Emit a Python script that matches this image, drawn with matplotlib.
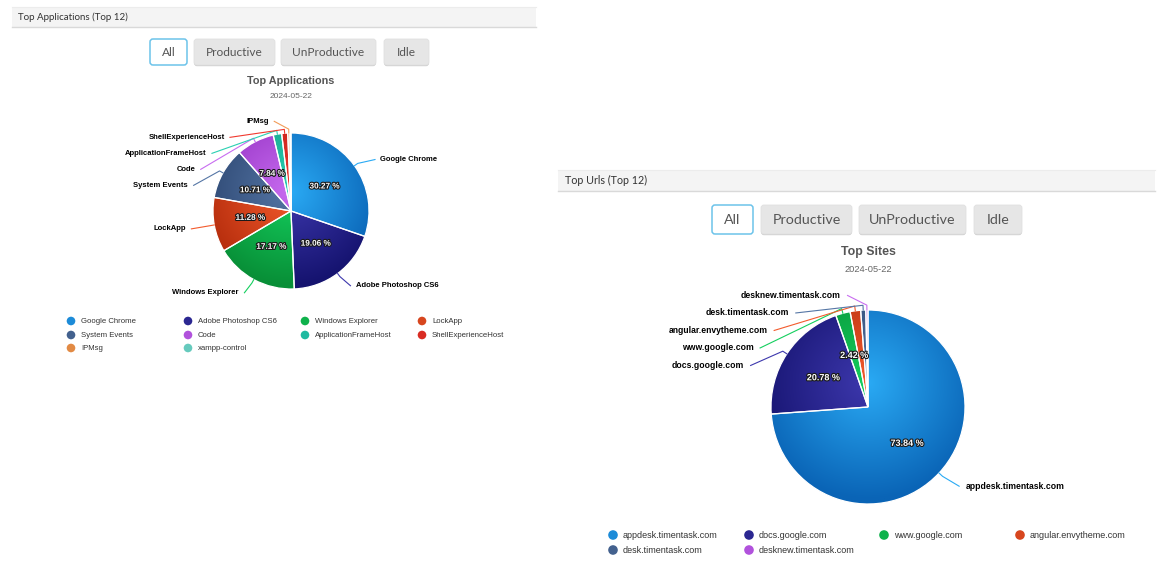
import numpy as np
import matplotlib
matplotlib.use("Agg")
import matplotlib.pyplot as plt
from matplotlib.patches import FancyBboxPatch, Rectangle, Circle
import matplotlib.patheffects as pe
from matplotlib.colors import to_rgb

# ---------------- data ----------------
app_names = ["Google Chrome", "Adobe Photoshop CS6", "Windows Explorer", "LockApp",
             "System Events", "Code", "ApplicationFrameHost", "ShellExperienceHost",
             "IPMsg", "xampp-control"]
app_values = [30.27, 19.06, 17.17, 11.28, 10.71, 7.84, 1.75, 1.25, 0.45, 0.22]

url_names = ["appdesk.timentask.com", "docs.google.com", "www.google.com",
             "angular.envytheme.com", "desk.timentask.com", "desknew.timentask.com"]
url_values = [73.84, 20.78, 2.42, 1.75, 0.85, 0.36]

date_label = "2024-05-22"
button_labels = ["All", "Productive", "UnProductive", "Idle"]
app_panel_title = "Top Applications (Top 12)"
url_panel_title = "Top Urls (Top 12)"
app_chart_title = "Top Applications"
url_chart_title = "Top Sites"

palette_light = ["#2aaaf4", "#3d38ad", "#14cf5e", "#f35b2d", "#5576a5",
                 "#c86cf0", "#2ad0b2", "#f0392f", "#f29c58", "#7cdccf"]
palette_dark = ["#0a64b6", "#15136f", "#088f37", "#b42c0c", "#2d4772",
                "#9533c4", "#12a08a", "#bd1d15", "#cf742b", "#4bb5a7"]

# ---------------- figure ----------------
W, H = 1172, 563
fig = plt.figure(figsize=(W / 100, H / 100), dpi=100)
ax = fig.add_axes([0, 0, 1, 1])
ax.set_xlim(0, W)
ax.set_ylim(H, 0)
ax.axis("off")
renderer = fig.canvas.get_renderer()


def fit(t, width):
    bb = t.get_window_extent(renderer)
    if bb.width > 0:
        t.set_fontsize(t.get_fontsize() * width / bb.width)
    return t.get_fontsize()


def header(x0, x1, y0, y1, title, tx, twidth):
    ax.add_patch(Rectangle((x0, y0), x1 - x0, y1 - y0, facecolor="#f4f4f4",
                           edgecolor="none", zorder=0))
    ax.plot([x0, x1], [y1, y1], color="#d9d9d9", lw=1, zorder=1)
    ax.plot([x0, x1], [y0, y0], color="#ececec", lw=0.8, zorder=1)
    t = ax.text(tx, (y0 + y1) / 2, title, fontsize=7.5, family="Lato",
                color="#333333", va="center", ha="left")
    fit(t, twidth)


def buttons(boxes, y0, y1, prod_width):
    fs = None
    texts = []
    for (bx0, bx1), label in zip(boxes, button_labels):
        active = label == "All"
        if not active:
            ax.add_patch(FancyBboxPatch((bx0, y0 + 1.2), bx1 - bx0, y1 - y0,
                                        boxstyle="round,pad=0,rounding_size=3",
                                        facecolor="#cfcfcf", edgecolor="none", zorder=1))
        ax.add_patch(FancyBboxPatch((bx0, y0), bx1 - bx0, y1 - y0,
                                    boxstyle="round,pad=0,rounding_size=3",
                                    facecolor="white" if active else "#e6e6e6",
                                    edgecolor="#6cc3ea" if active else "#e0e0e0",
                                    lw=1.1 if active else 0.6, zorder=2))
        t = ax.text((bx0 + bx1) / 2, (y0 + y1) / 2 + 0.5, label, family="Lato",
                    fontsize=10, color="#555555", ha="center", va="center", zorder=3)
        if label == "Productive":
            fs = fit(t, prod_width)
        texts.append(t)
    for t in texts:
        t.set_fontsize(fs)


def titles(cx, ty, title, tw, dy, dw):
    t = ax.text(cx, ty, title, family="Liberation Sans", weight="bold", fontsize=8,
                color="#555555", ha="center", va="center")
    fit(t, tw)
    d = ax.text(cx, dy, date_label, family="Liberation Sans", fontsize=6,
                color="#666666", ha="center", va="center")
    fit(d, dw)


def draw_pie(cx, cy, r, values, names, lbl_fs, pct_fs, spacing, pct_dist):
    n = len(values)
    colors = palette_light[:n]
    wedges, _ = ax.pie(values, colors=colors, center=(cx, cy), radius=r,
                       startangle=-90, counterclock=True, frame=True,
                       wedgeprops=dict(edgecolor="white", linewidth=0.9))
    N = 300
    xs = np.linspace(cx - r, cx + r, N)
    ys = np.linspace(cy - r, cy + r, N)
    X, Y = np.meshgrid(xs, ys)
    t = np.clip(np.hypot(X - cx, Y - (cy - 0.25 * r)) / (1.2 * r), 0, 1)[..., None]
    for i, w in enumerate(wedges):
        light = np.array(to_rgb(palette_light[i]))
        dark = np.array(to_rgb(palette_dark[i]))
        img = light * (1 - t) + dark * t
        im = ax.imshow(img, extent=(cx - r, cx + r, cy + r, cy - r), origin="upper",
                       interpolation="bilinear", zorder=1)
        im.set_clip_path(w)
        w.set_facecolor("none")
        w.set_zorder(2)

    # outside labels with vertical distribution (like Highcharts)
    items = []
    for i, w in enumerate(wedges):
        if values[i] < 0.3:
            continue
        phi = np.deg2rad((w.theta1 + w.theta2) / 2)
        left = np.cos(phi) < 0
        nat = cy + 1.17 * r * np.sin(phi) + 0.02 * r
        items.append(dict(i=i, phi=phi, left=left, nat=nat))
    for side in (True, False):
        grp = sorted([it for it in items if it["left"] == side],
                     key=lambda d: (d["nat"], -np.cos(d["phi"]) if side else np.cos(d["phi"])))
        prev = -1e9
        for it in grp:
            it["y"] = max(it["nat"], prev + spacing)
            prev = it["y"]
    R = 1.211 * r
    a = 0.056 * r
    for it in items:
        i, phi, left, y = it["i"], it["phi"], it["left"], it["y"]
        sgn = -1 if left else 1
        dyu = abs(y - cy) + a
        dx = np.sqrt(max(R ** 2 - dyu ** 2, 0)) + 0.17 * r
        xt = cx + sgn * dx
        xe = xt - sgn * 0.07 * r
        touch = (cx + r * np.cos(phi), cy + r * np.sin(phi))
        brk = (cx + 1.05 * r * np.cos(phi), cy + 1.05 * r * np.sin(phi))
        ax.plot([xe, brk[0], touch[0]], [y, brk[1], touch[1]],
                color=palette_light[i], lw=0.8, zorder=2, solid_joinstyle="round")
        ax.text(xt, y, names[i], family="Liberation Sans",
                weight="bold", fontsize=lbl_fs, color="black",
                ha="right" if left else "left", va="center", zorder=4)

    # inside percentage labels
    for i, w in enumerate(wedges):
        if values[i] < 2:
            continue
        phi = np.deg2rad((w.theta1 + w.theta2) / 2)
        px = cx + pct_dist * r * np.cos(phi)
        py = cy + pct_dist * r * np.sin(phi)
        ax.text(px, py, f"{values[i]:.2f} %", family="Liberation Sans", weight="bold",
                fontsize=pct_fs, color="white", ha="center", va="center", zorder=5,
                path_effects=[pe.withStroke(linewidth=1.6, foreground="#1a1a1a")])


def legend(names, cols, rows, rad, fs_width):
    fs = None
    texts = []
    for k, nm in enumerate(names):
        x = cols[k % 4]
        y = rows[k // 4]
        col = 0.55 * np.array(to_rgb(palette_light[k])) + 0.45 * np.array(to_rgb(palette_dark[k]))
        ax.add_patch(Circle((x, y), rad, facecolor=col, edgecolor="none", zorder=3))
        t = ax.text(x + 10, y + 0.3, nm, family="Liberation Sans", fontsize=6.5,
                    color="#333333", ha="left", va="center", zorder=3)
        if k == 0:
            fs = fit(t, fs_width)
        texts.append(t)
    for t in texts:
        t.set_fontsize(fs)


# ---- left panel ----
header(12, 536, 7, 27, app_panel_title, 18, 110)
buttons([(150, 187), (194, 275), (281, 376), (384, 429)], 39, 65, 57)
titles(291, 81, app_chart_title, 87, 97, 43)
draw_pie(291, 211, 78, app_values, app_names, 5.5, 5.9, 16, 0.53)
legend(app_names, [71, 188, 305, 422], [321, 335, 348], 4.3, 55)

# ---- right panel ----
header(558, 1155, 170, 191, url_panel_title, 565, 82)
buttons([(712, 753), (761, 852), (859, 966), (974, 1022)], 205, 234, 68)
titles(868, 252, url_chart_title, 55, 269, 48)
draw_pie(868, 407, 97, url_values, url_names, 6.2, 6.5, 17.5, 0.55)
legend(url_names, [613, 749, 884, 1020], [535, 550], 4.8, 94)

ax.set_aspect("auto")
ax.set_xlim(0, W)
ax.set_ylim(H, 0)
ax.axis("off")
fig.savefig("out.png", dpi=100, facecolor="white")
